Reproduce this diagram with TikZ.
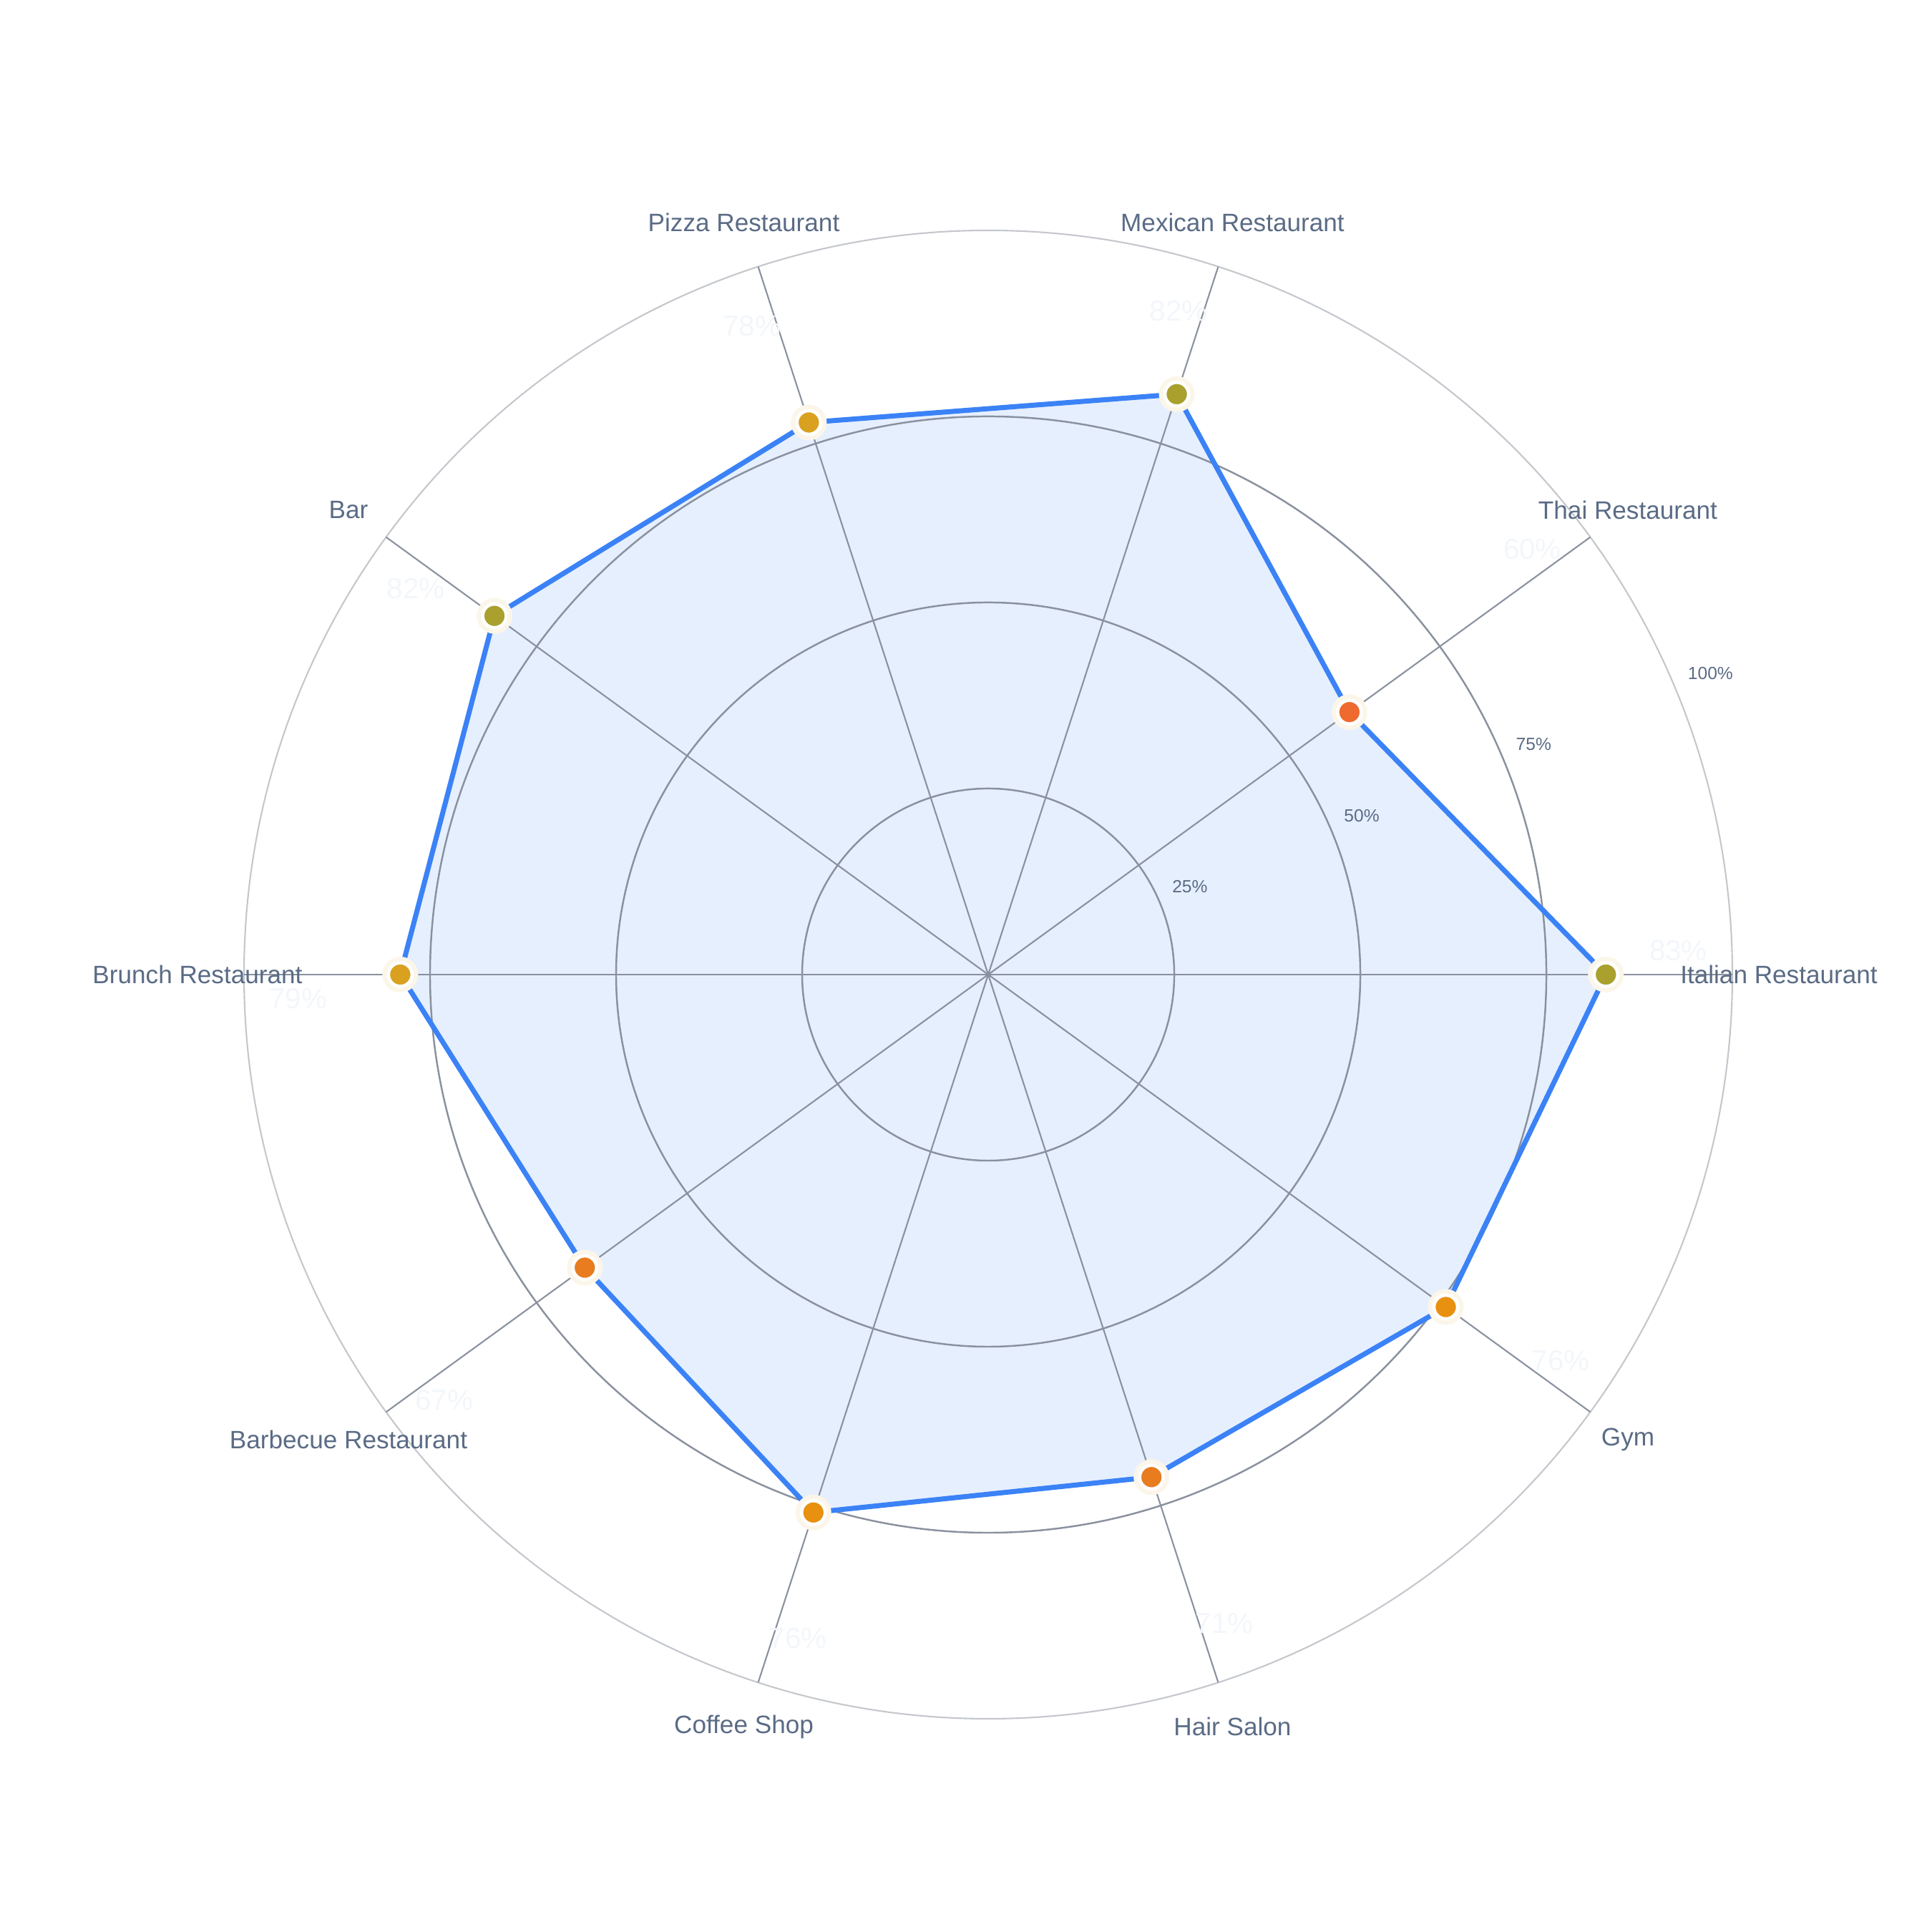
\documentclass[tikz,border=0pt]{standalone}
\usepackage{fontspec}
\setmainfont{Liberation Sans}
\definecolor{lineblue}{HTML}{3B82F6}
\definecolor{gridgray}{HTML}{8A919E}
\definecolor{outergray}{HTML}{C4C7CC}
\definecolor{labelgray}{HTML}{5A6B85}
\definecolor{valwhite}{HTML}{F3F6FA}
\definecolor{olive}{HTML}{A9A02E}
\definecolor{redorange}{HTML}{EE6A2E}
\definecolor{darkorange}{HTML}{E87C1E}
\definecolor{gold}{HTML}{D9A11F}
\definecolor{amber}{HTML}{E8900F}
\usetikzlibrary{positioning}
\usetikzlibrary{calc}
\tikzset{
	spoke/.style={draw=gridgray, line width=0.6pt},
	ring/.style={draw=gridgray, line width=0.7pt},
	catlabel/.style={text=labelgray, font=\fontsize{10}{12}\selectfont},
	ticklabel/.style={text=labelgray, font=\fontsize{7}{8}\selectfont},
	vallabel/.style={text=valwhite, font=\fontsize{11.5}{13}\selectfont},
	marker/.style={circle, fill=#1, draw=white, line width=1.3pt, minimum size=0.33cm, inner sep=0pt},
	halo/.style={circle, fill=gold!10, minimum size=0.5cm, inner sep=0pt}
}
\begin{document}
\begin{tikzpicture}
	\useasboundingbox (0,0) rectangle (27,27);
	\coordinate (c) at (13.81,13.38);

	% points
	\foreach \a/\v [count=\i] in {0/83,36/60,72/82,108/78,144/82,180/79,216/67,252/76,288/71,324/76}
		\coordinate (p\i) at ($(c)+(\a:{\v*0.104})$);

	% fill of the values
	\fill[lineblue, opacity=0.13] (p1) -- (p2) -- (p3) -- (p4) -- (p5) -- (p6) -- (p7) -- (p8) -- (p9) -- (p10) -- cycle;

	% grid
	\foreach \r in {25,50,75}
		\draw[ring] (c) circle ({\r*0.104});
	\draw[outergray, line width=0.6pt] (c) circle (10.4);
	\foreach \a in {0,36,...,324}
		\draw[spoke] (c) -- ($(c)+(\a:10.4)$);

	% tick labels
	\foreach \r in {25,50,75,100}
		\node[ticklabel, anchor=south west] at ($(c)+(22.5:{\r*0.104+0.05})$) {\r\%};

	% category labels
	\foreach \a/\t [count=\i] in {0/Italian Restaurant,36/Thai Restaurant,72/Mexican Restaurant,108/Pizza Restaurant,144/Bar,180/Brunch Restaurant,216/Barbecue Restaurant,252/Coffee Shop,288/Hair Salon,324/Gym}
		\node[catlabel] (cat\i) at ($(c)+(\a:11.05)$) {\t};

	% value labels
	\foreach \a/\v [count=\i] in {0/83,36/60,72/82,108/78,144/82,180/79,216/67,252/76,288/71,324/76}
		\node[vallabel] (val\i) at ($(c)+(\a+2:9.65)$) {\v\%};

	\draw[lineblue, line width=2pt, line join=round] (p1) -- (p2) -- (p3) -- (p4) -- (p5) -- (p6) -- (p7) -- (p8) -- (p9) -- (p10) -- cycle;

	% markers
	\foreach \i/\col in {1/olive,2/redorange,3/olive,4/gold,5/olive,6/gold,7/darkorange,8/amber,9/darkorange,10/amber} {
		\node[halo] at (p\i) {};
		\node[marker=\col] (m\i) at (p\i) {};
	}
\end{tikzpicture}
\end{document}
